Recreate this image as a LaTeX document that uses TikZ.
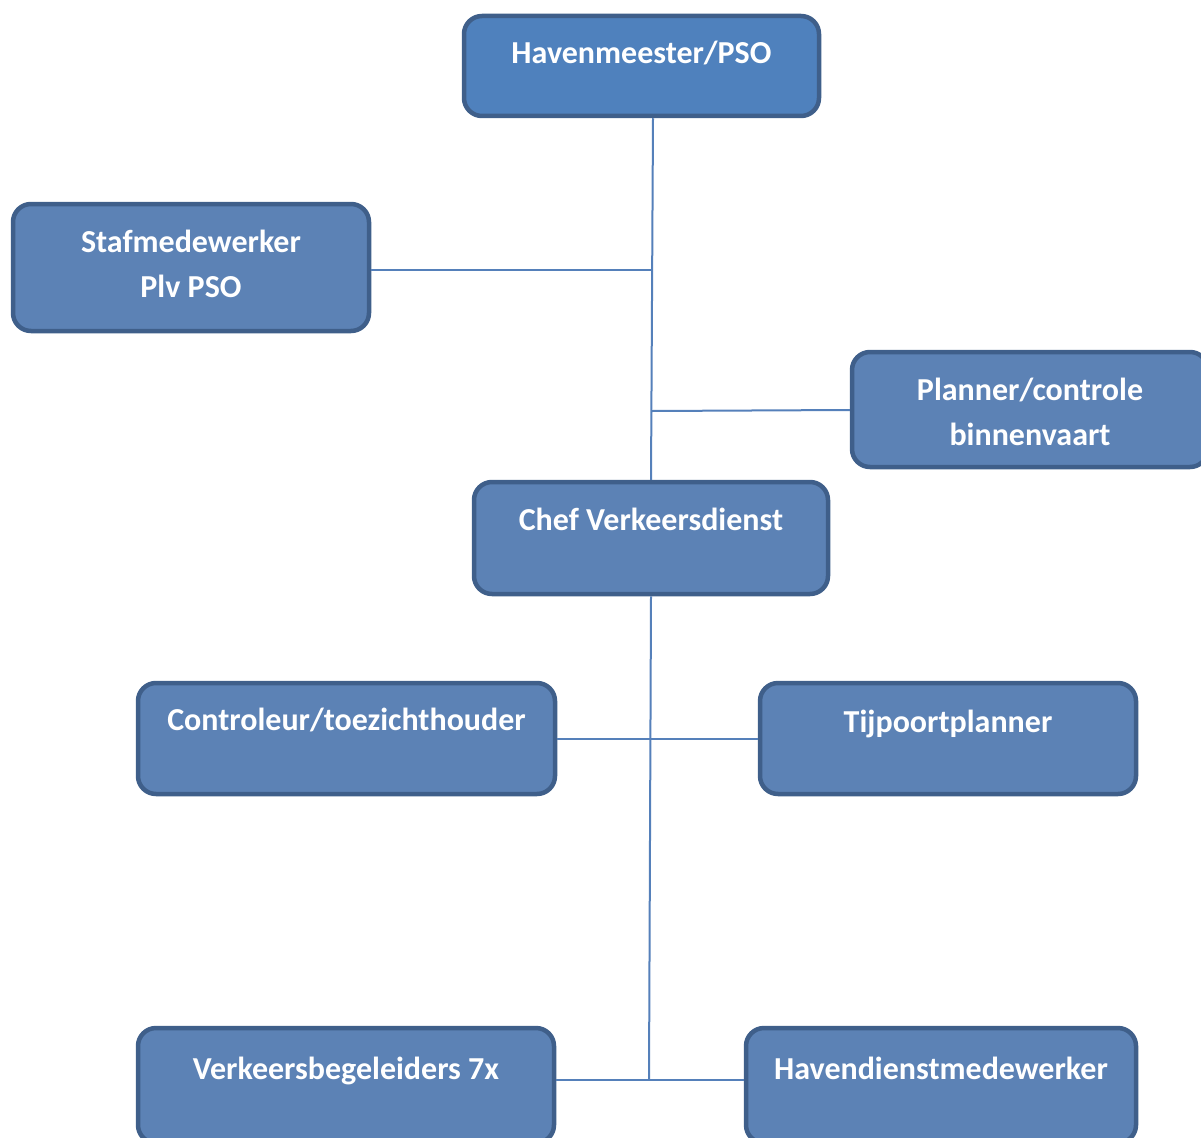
\documentclass[tikz,border=0pt]{standalone}
\usepackage{fontspec}
\setmainfont{Carlito}
\definecolor{topfill}{HTML}{4F81BD}
\definecolor{boxfill}{HTML}{5C82B5}
\definecolor{boxline}{HTML}{3F5F8A}
\definecolor{linkcol}{HTML}{5580BA}
\tikzset{
  orgbox/.style={draw=boxline, line width=4.5pt, fill=boxfill, rounded corners=18pt, rectangle, inner sep=0pt},
  lbl/.style={text=white, font=\fontsize{32}{38}\selectfont\bfseries, anchor=base, inner sep=0pt},
  link/.style={draw=linkcol, line width=2pt}
}
\begin{document}
\begin{tikzpicture}[x=1pt,y=-1pt]
\useasboundingbox (0,0) rectangle (1201,1137);
\clip (0,0) rectangle (1201,1137);
% boxes
\node[orgbox, fill=topfill, minimum width=355pt, minimum height=100pt] (hm) at (641.5,66) {};
\node[orgbox, minimum width=356pt, minimum height=127pt] (st) at (191,267.5) {};
\node[orgbox, minimum width=356pt, minimum height=115pt] (pl) at (1030,409.5) {};
\node[orgbox, minimum width=354pt, minimum height=112pt] (cv) at (651,538) {};
\node[orgbox, minimum width=417pt, minimum height=111pt] (ct) at (346.5,738.5) {};
\node[orgbox, minimum width=376pt, minimum height=111pt] (tp) at (948,738.5) {};
\node[orgbox, minimum width=416pt, minimum height=115pt] (vb) at (346,1085.5) {};
\node[orgbox, minimum width=390pt, minimum height=115pt] (hd) at (941,1085.5) {};
% texts
\node[lbl] (hmt) at (641.5,64) {Havenmeester/PSO};
\node[lbl] (stt1) at (191,252) {Stafmedewerker};
\node[lbl] (stt2) at (191,297) {Plv PSO};
\node[lbl] (plt1) at (1030,400) {Planner/controle};
\node[lbl] (plt2) at (1030,445) {binnenvaart};
\node[lbl] (cvt) at (651,530) {Chef Verkeersdienst};
\node[lbl] (ctt) at (346.5,730) {Controleur/toezichthouder};
\node[lbl] (tpt) at (948,732) {Tijpoortplanner};
\node[lbl] (vbt) at (346,1079) {Verkeersbegeleiders 7x};
\node[lbl] (hdt) at (941,1079) {Havendienstmedewerker};
% junction coordinates
\coordinate (j1) at (652,270);
\coordinate (j2) at (652,411);
\coordinate (j3) at (650,739);
\coordinate (j4) at (649,1080);
% connectors
\draw[link] (hm.south -| 653,0) -- (cv.north -| 651,0);
\draw[link] (st.east |- j1) -- (j1);
\draw[link] (j2) -- (pl.west |- 0,410);
\draw[link] (cv.south -| 651,0) -- (j4);
\draw[link] (ct.east |- j3) -- (tp.west |- j3);
\draw[link] (vb.east |- j4) -- (hd.west |- j4);
\end{tikzpicture}
\end{document}
